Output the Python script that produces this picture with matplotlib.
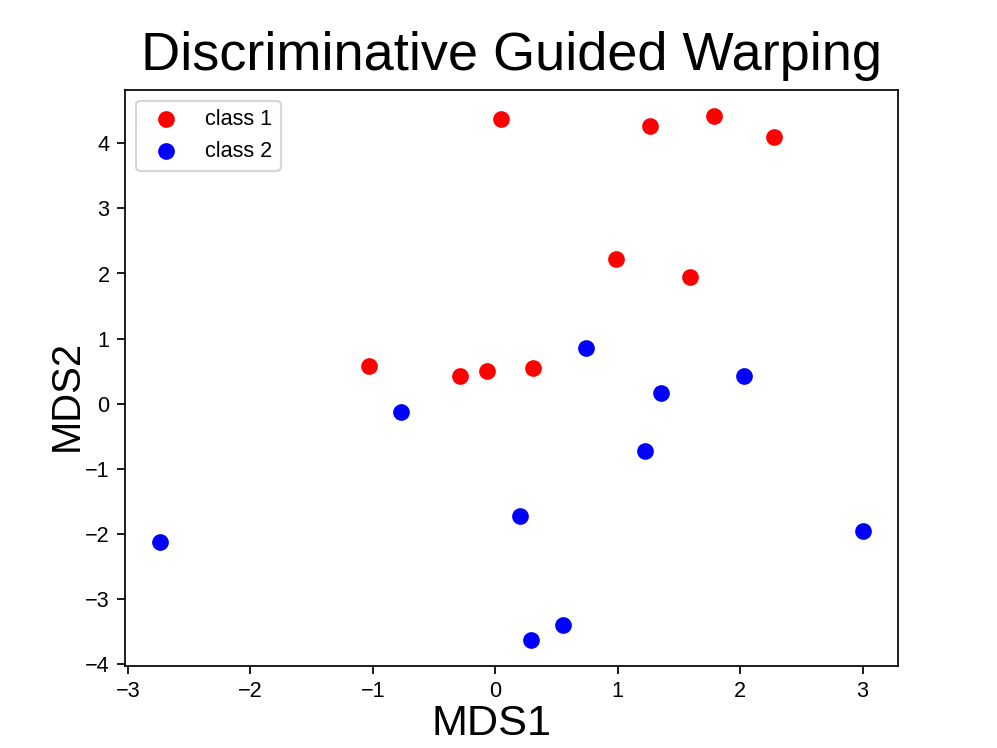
import matplotlib
matplotlib.use("Agg")
import matplotlib.pyplot as plt

plt.rcParams['font.family'] = ['Liberation Sans', 'DejaVu Sans']

class1_x = [0.05, 1.26, 1.79, 2.28, 0.99, 1.59, -1.03, -0.29, -0.07, 0.31]
class1_y = [4.37, 4.26, 4.42, 4.09, 2.22, 1.94, 0.58, 0.43, 0.50, 0.55]
class2_x = [0.74, -0.77, 1.35, 2.03, 1.22, 0.20, 3.00, -2.74, 0.55, 0.29]
class2_y = [0.85, -0.12, 0.16, 0.42, -0.73, -1.73, -1.96, -2.13, -3.39, -3.62]

fig = plt.figure(figsize=(6.4, 4.8), dpi=155.85)
ax = fig.add_subplot(111)
ax.scatter(class1_x, class1_y, c='red', s=45, label='class 1')
ax.scatter(class2_x, class2_y, c='blue', s=45, label='class 2')
ax.set_title('Discriminative Guided Warping', fontsize=25, pad=9)
ax.set_xlabel('MDS1', fontsize=20)
ax.set_ylabel('MDS2', fontsize=18.5)
ax.xaxis.set_label_coords(0.475, -0.066, transform=ax.transAxes)
ax.yaxis.set_label_coords(-0.05, 0.469, transform=ax.transAxes)
ax.xaxis.label.set_va('top')
ax.yaxis.label.set_va('bottom')
ax.legend(loc='upper left')
fig.savefig('out.png', dpi=155.85)
